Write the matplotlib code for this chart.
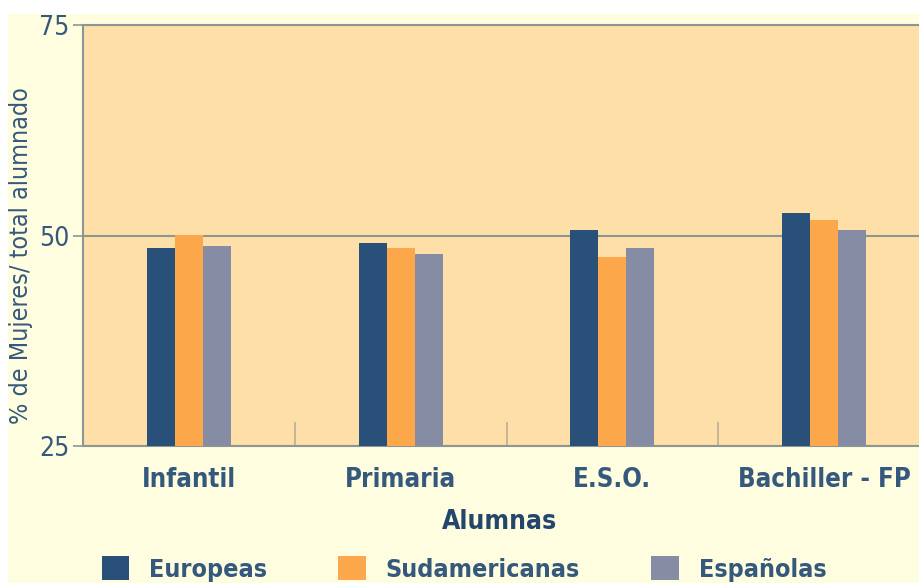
import numpy as np
import matplotlib.pyplot as plt
from matplotlib.patches import Rectangle, Patch

# data
categories = ['Infantil', 'Primaria', 'E.S.O.', 'Bachiller - FP']
series = ['Europeas', 'Sudamericanas', 'Españolas']
europeas = [48.5, 49.1, 50.6, 52.7]
sudamericanas = [50.1, 48.5, 47.4, 51.8]
espanolas = [48.7, 47.8, 48.5, 50.6]
yticks = [25, 50, 75]

colors = ['#285079', '#FCA84A', '#868CA3']
txt = '#35587D'
cream = '#FFFDE0'
peach = '#FEDFA7'
grey = '#8C9692'

W, H = 919, 583
fig = plt.figure(figsize=(W / 100, H / 100), dpi=100, facecolor='white')
fig.patches.append(Rectangle((8 / W, 0), 1, (H - 14) / H, transform=fig.transFigure,
                             facecolor=cream, edgecolor='none', zorder=-10))

ax = fig.add_axes([83 / W, 1 - 446 / H, (930 - 83) / W, (446 - 25) / H])
ax.set_facecolor(peach)

x = np.arange(len(categories))
w = 0.132
for i, (vals, c) in enumerate(zip([europeas, sudamericanas, espanolas], colors)):
    ax.bar(x + (i - 1) * w, np.array(vals) - 25, width=w, bottom=25, color=c,
           edgecolor='none', zorder=3)

ax.set_xlim(-0.5, 3.5)
ax.set_ylim(25, 75)
ax.set_yticks(yticks)
ax.set_xticks(x)
ax.set_xticklabels(categories, fontsize=18.5, fontweight='bold', fontstretch='condensed',
                   color=txt)
ax.set_xticks([0.5, 1.5, 2.5], minor=True)
ax.tick_params(axis='x', which='major', length=0, pad=15)
ax.tick_params(axis='x', which='minor', direction='in', length=17, width=1.2, color='#BBAE96')
ax.tick_params(axis='y', length=7, width=1.2, color=grey, pad=3, labelsize=19,
               labelcolor=txt)
for lab in ax.get_yticklabels():
    lab.set_fontstretch('condensed')

ax.yaxis.grid(True, color=grey, lw=1.5, zorder=1)
for s in ['left', 'bottom', 'top']:
    ax.spines[s].set_color(grey)
    ax.spines[s].set_linewidth(1.5)
ax.spines['right'].set_visible(False)

fig.text(21 / W, 1 - 256 / H, '% de Mujeres/ total alumnado', rotation=90, ha='center',
         va='center', fontsize=18, fontstretch='condensed', color=txt)
fig.text(500 / W, 1 - 522 / H, 'Alumnas', ha='center', va='center', fontsize=19,
         fontweight='bold', fontstretch='condensed', color='#24466B')

handles = [Patch(facecolor=c, edgecolor='none') for c in colors]
leg = fig.legend(handles, series, loc='center left', bbox_to_anchor=(89 / W, 1 - 569 / H),
                 ncol=3, frameon=False, borderpad=0, handlelength=1.1, handleheight=1.1,
                 handletextpad=0.8, columnspacing=2.85,
                 prop={'size': 18, 'weight': 'bold', 'stretch': 'condensed'})
for t in leg.get_texts():
    t.set_color(txt)

plt.savefig('out.png', dpi=100, facecolor='white')
